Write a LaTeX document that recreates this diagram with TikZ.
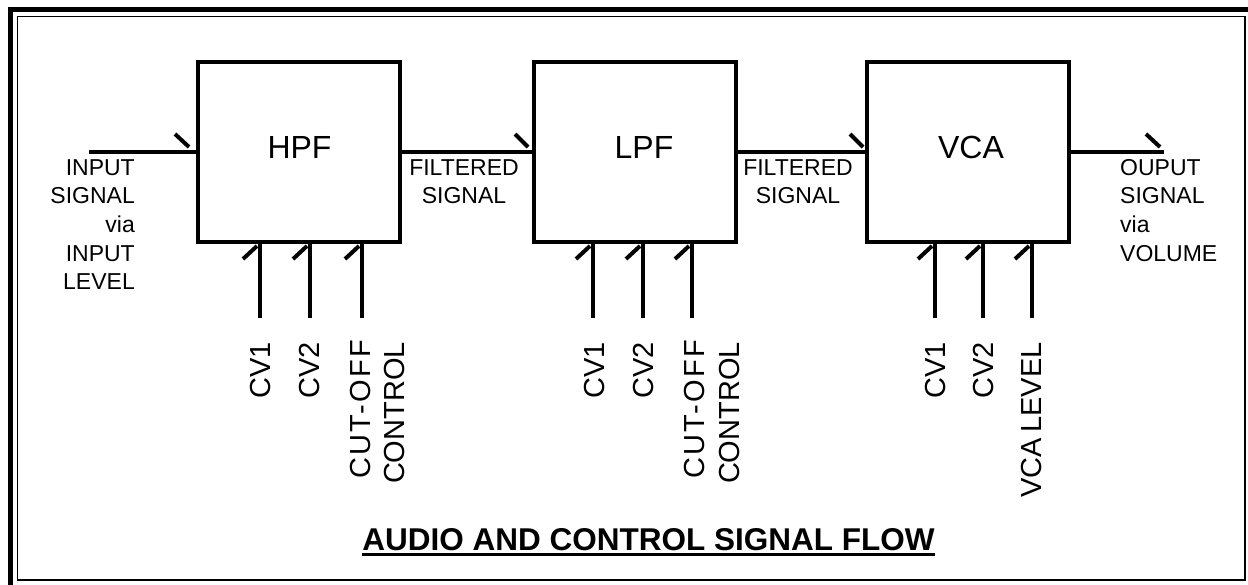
\documentclass[tikz,border=0pt]{standalone}
\usepackage{fontspec}
\setmainfont{Liberation Sans}
\newfontfamily\spacedfont[LetterSpace=7.5]{Liberation Sans}
\begin{document}
\begin{tikzpicture}[x=1bp,y=-1bp,
  blockbox/.style={draw, line width=4bp, minimum width=202bp, minimum height=179bp, inner sep=0pt, outer sep=0pt},
  blocklabel/.style={font=\fontsize{32bp}{38bp}\selectfont, inner sep=0pt, anchor=base},
  sig/.style={line width=4bp},
  tickmark/.style={line width=4bp},
  sidelabel/.style={font=\fontsize{23bp}{28.7bp}\selectfont, inner sep=0pt},
  vlabel/.style={font=\fontsize{29bp}{34bp}\selectfont, inner sep=0pt, rotate=90, anchor=base east},
  titlefont/.style={font=\bfseries\fontsize{31.5bp}{36bp}\selectfont, inner sep=0pt, anchor=base}
]
\useasboundingbox (0,0) rectangle (1248,585);
% frame
\draw[line width=5bp] (10.5,585) -- (10.5,9.5) -- (1248,9.5);
\draw[line width=1.5bp] (17.5,16.5) rectangle (1245,580);
% blocks
\node[blockbox] (hpf) at (299,152) {};
\node[blockbox] (lpf) at (635,152) {};
\node[blockbox] (vca) at (968,152) {};
\node[blocklabel] (hpft) at (299.5,158.5) {HPF};
\node[blocklabel] (lpft) at (644,158.5) {LPF};
\node[blocklabel] (vcat) at (971,158.5) {VCA};
% signal path
\coordinate (inp) at (89,152);
\coordinate (outp) at (1164,152);
\draw[sig] (inp) -- (hpf.west);
\draw[sig] (hpf.east) -- (lpf.west);
\draw[sig] (lpf.east) -- (vca.west);
\draw[sig] (vca.east) -- (outp);
\draw[tickmark] ([shift={(-23,-18)}]hpf.west) -- ++(14,13);
\draw[tickmark] ([shift={(-19,-18)}]lpf.west) -- ++(13,13);
\draw[tickmark] ([shift={(-17,-18)}]vca.west) -- ++(13,13);
\draw[tickmark] ([shift={(-18,-18)}]outp) -- ++(14,13);
% control inputs
\foreach \n/\b/\x in {h1/hpf/260,h2/hpf/310,h3/hpf/362,l1/lpf/593,l2/lpf/643,l3/lpf/692,v1/vca/935,v2/vca/983,v3/vca/1032}{
  \coordinate (\n) at (\x,318);
  \coordinate (\n-t) at (\n |- \b.south);
  \draw[sig] (\n-t) -- (\n);
  \draw[tickmark] ([shift={(-17,17.5)}]\n-t) -- ++(14,-13);
}
% rotated labels
\node[vlabel] (h1l) at (270,342) {CV1};
\node[vlabel] (h2l) at (319,342) {CV2};
\node[vlabel] (h3l) at (370,340) {\spacedfont CUT-OFF};
\node[vlabel] (h4l) at (404,342) {CONTROL};
\node[vlabel] (l1l) at (604,342) {CV1};
\node[vlabel] (l2l) at (653,342) {CV2};
\node[vlabel] (l3l) at (704,340) {\spacedfont CUT-OFF};
\node[vlabel] (l4l) at (739,342) {CONTROL};
\node[vlabel] (v1l) at (945,342) {CV1};
\node[vlabel] (v2l) at (993,342) {CV2};
\node[vlabel] (v3l) at (1041,342) {VCA\hspace{0.2em}LEVEL};
% side labels
\node[sidelabel, anchor=north east, align=right] (inl) at (135,159) {INPUT\\SIGNAL\\via\\INPUT\\LEVEL};
\node[sidelabel, anchor=north, align=center] (f1) at (464,159) {FILTERED\\SIGNAL};
\node[sidelabel, anchor=north, align=center] (f2) at (798,159) {FILTERED\\SIGNAL};
\node[sidelabel, anchor=north west, align=left] (outl) at (1120,159) {OUPUT\\SIGNAL\\via\\VOLUME};
% title
\node[titlefont] (title) at (648.5,550) {AUDIO AND CONTROL SIGNAL FLOW};
\draw[line width=2.5bp] ([shift={(0,4.5)}]title.base west) -- ([shift={(0,4.5)}]title.base east);
\end{tikzpicture}
\end{document}
